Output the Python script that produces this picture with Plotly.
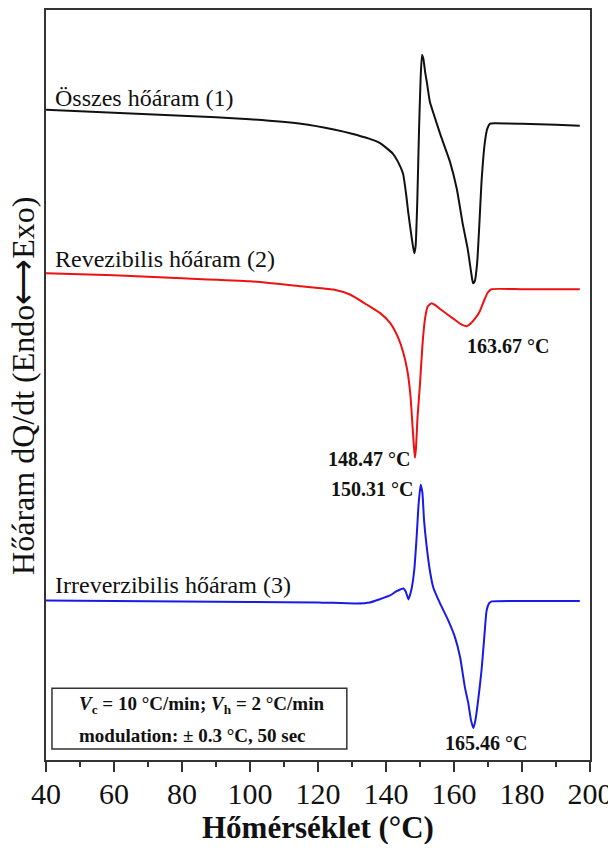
import plotly.graph_objects as go

# Temperature (°C) and heat-flow (arbitrary units, curves offset)
temp_total = [40, 60, 80, 100, 115, 125, 130, 135, 138, 140, 142, 143.5, 145, 146, 146.5, 147.5,
              148.3, 148.7, 149.2, 149.7, 150.2, 150.6, 151, 151.5, 152, 152.9, 154, 156, 158.8,
              160.8, 162.6, 164, 165, 165.6, 166.1, 166.8, 167.5, 168.1, 169.1, 169.8, 170.6, 172,
              180, 190, 197]
flow_total = [6.52, 6.49, 6.46, 6.425, 6.38, 6.32, 6.28, 6.23, 6.19, 6.14, 6.08, 6.00, 5.88, 5.65,
              5.50, 5.25, 5.08, 5.15, 5.60, 6.30, 6.85, 7.07, 7.03, 6.90, 6.80, 6.60, 6.48, 6.27,
              6.00, 5.73, 5.37, 5.13, 4.90, 4.78, 4.80, 4.98, 5.40, 5.80, 6.20, 6.33, 6.38, 6.385,
              6.38, 6.37, 6.36]

temp_rev = [40, 60, 80, 100, 115, 124.5, 129.4, 134.3, 138.2, 141.2, 143.6, 145.1, 146.3, 147.2, 147.8,
            148.2, 148.5, 148.8, 149.3, 150, 150.7, 151.5, 152.3, 153.4, 154.5, 156, 158, 160, 162,
            163.7, 165, 166.5, 167.6, 169, 170, 171, 180, 197]
flow_rev = [4.88, 4.86, 4.83, 4.80, 4.75, 4.717, 4.667, 4.567, 4.483, 4.383, 4.233, 4.083, 3.90,
            3.65, 3.35, 3.15, 3.03, 3.12, 3.45, 3.77, 4.15, 4.43, 4.55, 4.58, 4.56, 4.52, 4.47,
            4.42, 4.37, 4.35, 4.38, 4.44, 4.50, 4.62, 4.69, 4.72, 4.72, 4.72]

temp_irr = [40, 60, 80, 100, 120, 131, 135.3, 138, 141.2, 143, 145.1, 145.8, 146.6, 147.1, 147.6,
            148.3, 149, 149.6, 150.2, 150.7, 151.2, 152, 152.9, 153.9, 155.9, 158.3, 160.3, 161.8,
            163.2, 164.2, 165, 165.7, 166.3, 167, 168.1, 168.9, 169.6, 170.3, 171.1, 180, 197]
flow_irr = [1.60, 1.595, 1.59, 1.585, 1.58, 1.57, 1.58, 1.61, 1.65, 1.69, 1.72, 1.69, 1.61, 1.66,
            1.73, 1.90, 2.23, 2.57, 2.76, 2.68, 2.40, 2.13, 1.90, 1.73, 1.57, 1.40, 1.23, 1.03,
            0.73, 0.57, 0.40, 0.32, 0.40, 0.57, 0.90, 1.23, 1.50, 1.57, 1.59, 1.595, 1.595]

series_names = ["Összes hőáram (1)", "Revezibilis hőáram (2)", "Irreverzibilis hőáram (3)"]
peak_labels = ["163.67 °C", "148.47 °C", "150.31 °C", "165.46 °C"]
x_ticks = [40, 60, 80, 100, 120, 140, 160, 180, 200]

SERIF = "Liberation Serif, Times New Roman, serif"

fig = go.Figure()
for t, f, c in [(temp_total, flow_total, "#111111"),
                (temp_rev, flow_rev, "#ee1111"),
                (temp_irr, flow_irr, "#1a1ae6")]:
    fig.add_trace(go.Scatter(x=t, y=f, mode="lines", line=dict(color=c, width=2, shape="spline", smoothing=0.5),
                             showlegend=False, hoverinfo="skip"))

annos = []
# curve labels
for name, yv in zip(series_names, [6.64, 5.02, 1.75]):
    annos.append(dict(x=42.0, y=yv, xref="x", yref="y", text=name, showarrow=False,
                      xanchor="left", yanchor="middle", font=dict(family=SERIF, size=24, color="#111")))
# peak labels
pk = [(175.9, 4.15, "center"), (147.6, 3.02, "right"), (148.5, 2.72, "right"), (169.3, 0.17, "center")]
for lab, (xx, yy, xa) in zip(peak_labels, pk):
    annos.append(dict(x=xx, y=yy, xref="x", yref="y", text="<b>" + lab + "</b>", showarrow=False,
                      xanchor=xa, yanchor="middle", font=dict(family=SERIF, size=20, color="#111")))
# info box text
annos.append(dict(x=0.057, y=0.0731, xref="paper", yref="paper", xanchor="left", yanchor="middle",
                  showarrow=False, font=dict(family=SERIF, size=19, color="#111"),
                  text="<b><i>V</i><sub>c</sub> = 10 °C/min; <i>V</i><sub>h</sub> = 2 °C/min</b>"))
annos.append(dict(x=0.057, y=0.0332, xref="paper", yref="paper", xanchor="left", yanchor="middle",
                  showarrow=False, font=dict(family=SERIF, size=19, color="#111"),
                  text="<b>modulation: ± 0.3 °C, 50 sec</b>"))
# axis titles
annos.append(dict(x=-0.042, y=0.499, xref="paper", yref="paper", textangle=-90, showarrow=False,
                  xanchor="center", yanchor="middle", borderpad=0,
                  font=dict(family=SERIF, size=32, color="#111"),
                  text="Hőáram dQ/dt (Endo⟷Exo)"))
annos.append(dict(x=0.5, y=-0.0905, xref="paper", yref="paper", showarrow=False,
                  xanchor="center", yanchor="middle", borderpad=0,
                  font=dict(family=SERIF, size=31, color="#111"),
                  text="<b>Hőmérséklet (°C)</b>"))

fig.update_layout(
    width=608, height=836,
    margin=dict(l=38, r=26, t=0, b=84),
    paper_bgcolor="white", plot_bgcolor="white",
    annotations=annos,
    shapes=[dict(type="rect", xref="paper", yref="paper", x0=0.011, x1=0.553, y0=0.0146, y1=0.0957,
                 line=dict(color="#333", width=1.5), fillcolor="rgba(0,0,0,0)")],
    xaxis=dict(range=[40, 200], tickvals=x_ticks, ticktext=[str(v) for v in x_ticks],
               showgrid=False, zeroline=False, showline=True, mirror=True, linecolor="#333", linewidth=2,
               ticks="outside", ticklen=10, tickwidth=1.5, tickcolor="#333",
               ticklabeloverflow="allow", ticklabelstandoff=-4,
               minor=dict(dtick=10, ticklen=5, ticks="outside", tickwidth=1.5, tickcolor="#333"),
               tickfont=dict(family=SERIF, size=30, color="#111")),
    yaxis=dict(range=[0, 7.52], showgrid=False, zeroline=False, showline=True, mirror=True,
               linecolor="#333", linewidth=2, ticks="", showticklabels=False),
)

fig.write_html("out.html")
